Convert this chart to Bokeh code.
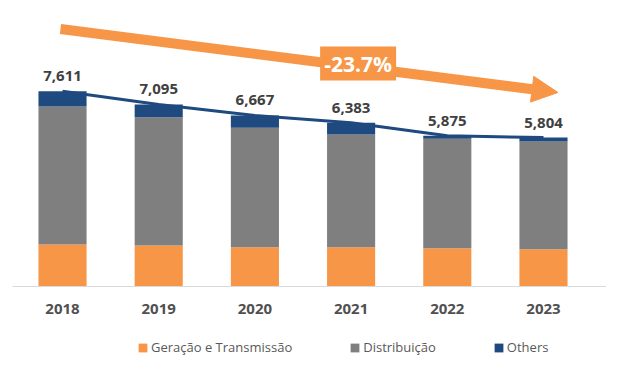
from bokeh.plotting import figure
from bokeh.layouts import column
from bokeh.models import ColumnDataSource, Range1d, FixedTicker, Arrow, NormalHead, Legend, LegendItem
from bokeh.core.properties import value
from bokeh.embed import file_html
from bokeh.resources import INLINE

years = ["2018", "2019", "2020", "2021", "2022", "2023"]
geracao = [1637, 1598, 1532, 1530, 1494, 1455]
distribuicao = [5378, 5002, 4655, 4397, 4266, 4199]
others = [596, 495, 480, 456, 115, 150]
change_label = "-23.7%"

series_names = ["Geração e Transmissão", "Distribuição", "Others"]
colors = ["#F79646", "#7F7F7F", "#1F4A7F"]
stack_cols = ["g", "d", "o"]

FONT = "Open Sans"
xs = list(range(len(years)))
totals = [g + d + o for g, d, o in zip(geracao, distribuicao, others)]

src = ColumnDataSource(dict(
    x=xs, g=geracao, d=distribuicao, o=others, total=totals,
    lab=["{:,}".format(t) for t in totals],
))

W = 606
p = figure(width=W, height=330, output_backend="svg", toolbar_location=None,
           x_range=Range1d(-0.52, 5.655), y_range=Range1d(0, 11146),
           y_axis_location=None, min_border_left=12, min_border_right=0,
           min_border_top=0, min_border_bottom=44)
p.outline_line_color = None
p.xgrid.visible = False
p.ygrid.visible = False

rs = p.vbar_stack(stack_cols, x="x", width=0.5, source=src,
                  color=colors, line_color=None)

p.line("x", "total", source=src, line_color="#1F4A7F", line_width=3)

p.text("x", "total", text="lab", source=src, y_offset=-15,
       text_align="center", text_baseline="alphabetic",
       text_font=value(FONT), text_font_style="bold", text_font_size="15px",
       text_color="#404040")

# trend arrow
arrow = Arrow(x_start=-0.021, y_start=10035, x_end=5.15, y_end=7560,
              line_color="#F79646", line_width=10,
              end=NormalHead(size=26, fill_color="#F79646", line_color="#F79646", line_width=1))
p.add_layout(arrow)

box = p.rect(x=[3.073], y=[8690], width=76, height=34, width_units="screen",
             height_units="screen", fill_color="#F79646", line_color=None)
box.level = "overlay"
t = p.text(x=[3.073], y=[8690], text=[change_label], text_align="center",
           text_baseline="middle", text_font=value(FONT), text_font_style="bold",
           text_font_size="21px", text_color="white")
t.level = "overlay"

ax = p.xaxis[0]
ax.ticker = FixedTicker(ticks=xs)
ax.major_label_overrides = {i: y for i, y in enumerate(years)}
ax.major_tick_line_color = None
ax.minor_tick_line_color = None
ax.axis_line_color = "#D9D9D9"
ax.major_label_standoff = 11
ax.major_label_text_font = FONT
ax.major_label_text_font_style = "bold"
ax.major_label_text_font_size = "15px"
ax.major_label_text_color = "#505050"

# legend strip (its ranges keep the series' bars out of view; only the legend shows)
pl = figure(width=W, height=36, output_backend="svg", toolbar_location=None,
            x_range=Range1d(-20, -19), y_range=Range1d(0, 1),
            x_axis_location=None, y_axis_location=None,
            min_border_left=0, min_border_right=0, min_border_top=0, min_border_bottom=0)
pl.outline_line_color = None
pl.xgrid.visible = False
pl.ygrid.visible = False
leg_rs = pl.vbar_stack(stack_cols, x="x", width=0.5, source=src,
                       color=colors, line_color=None)

legend = Legend(items=[LegendItem(label=n, renderers=[r]) for n, r in zip(series_names, leg_rs)],
                location=(125, 10), orientation="horizontal",
                glyph_width=11, glyph_height=11, label_height=11, label_standoff=3,
                spacing=57, padding=0, margin=0, border_line_color=None,
                background_fill_alpha=0, label_text_font=FONT,
                label_text_font_size="13px", label_text_color="#595959")
pl.add_layout(legend, "center")

layout = column(p, pl, spacing=0)
open("out.html", "w").write(file_html(layout, INLINE))
